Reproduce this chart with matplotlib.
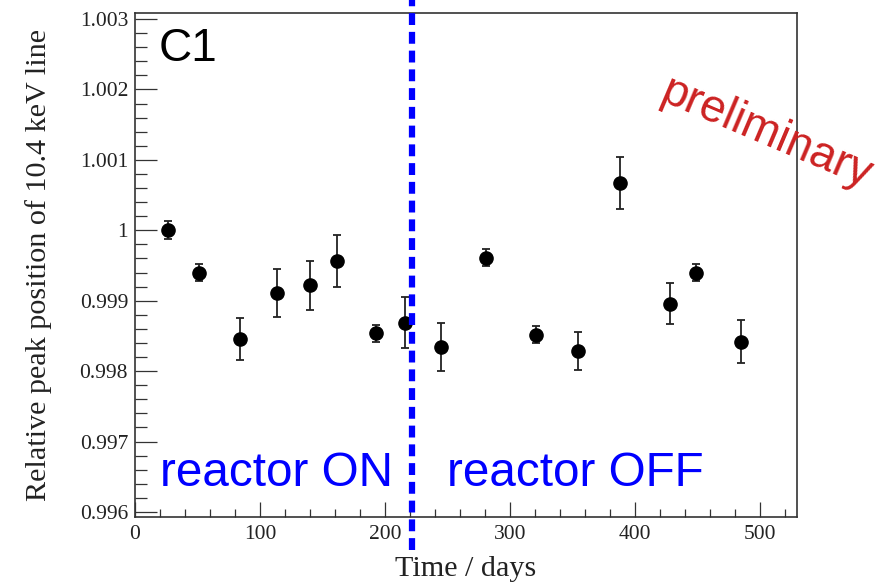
import matplotlib.pyplot as plt
from matplotlib.ticker import MultipleLocator

# data
days = [26, 51, 84, 114, 140, 162, 193, 216,
        245, 281, 321, 355, 388, 428, 449, 485]
peak = [1.00000, 0.99940, 0.99846, 0.99911, 0.99922, 0.99957, 0.99854, 0.99869,
        0.99834, 0.99961, 0.99852, 0.99828, 1.00067, 0.99896, 0.99940, 0.99842]
err = [0.00013, 0.00012, 0.00030, 0.00034, 0.00035, 0.00037, 0.00012, 0.00036,
       0.00034, 0.00012, 0.00012, 0.00027, 0.00037, 0.00029, 0.00012, 0.00030]
switch_day = 221.6

xticks = [0, 100, 200, 300, 400, 500]
yticks = [0.996, 0.997, 0.998, 0.999, 1.0, 1.001, 1.002, 1.003]
ylabels = ['0.996', '0.997', '0.998', '0.999', '1', '1.001', '1.002', '1.003']

serif = 'Liberation Serif'
sans = 'Liberation Sans'

fig = plt.figure(figsize=(8.96, 5.82), dpi=100)
ax = fig.add_axes([0.1507, 0.1117, 0.7388, 0.866])

ax.errorbar(days, peak, yerr=err, fmt='o', color='black', ecolor='#222222',
            markersize=9.5, elinewidth=1.3, capsize=2.9, capthick=1.3, zorder=3)

# reactor switch-off, drawn past the frame as in the slide
ax.axvline(switch_day, ymin=-0.066, ymax=1.03, color='#0000ff', lw=4.5,
           dashes=(1.9, 1.1), clip_on=False, zorder=4)

ax.set_xlim(0, 530)
ax.set_ylim(0.995929, 1.003086)
ax.set_xticks(xticks)
ax.set_yticks(yticks, ylabels)
ax.xaxis.set_minor_locator(MultipleLocator(20))
ax.yaxis.set_minor_locator(MultipleLocator(0.0002))

ax.tick_params(axis='x', which='major', direction='in', length=11, width=0.9,
               pad=6, top=False, labelsize=15.5, color='#333333')
ax.tick_params(axis='x', which='minor', direction='in', length=6, width=0.9,
               top=False, color='#333333')
ax.tick_params(axis='y', which='major', direction='in', length=15.8, width=0.9,
               pad=5, right=False, labelsize=15.5, color='#333333')
ax.tick_params(axis='y', which='minor', direction='in', length=8.6, width=0.9,
               right=False, color='#333333')
for lab in ax.get_xticklabels() + ax.get_yticklabels():
    lab.set_fontfamily(serif)
    lab.set_color('#222222')
for sp in ax.spines.values():
    sp.set_color('#333333')
    sp.set_linewidth(1.2)

ax.set_xlabel('Time / days', fontfamily=serif, fontsize=21.7, color='#222222')
ax.set_ylabel('Relative peak position of 10.4 keV line', fontfamily=serif,
              fontsize=21.7, color='#222222')
ax.xaxis.set_label_coords(0.5, -0.077)
ax.yaxis.set_label_coords(-0.126, 0.5)

ax.text(0.035, 0.905, 'C1', transform=ax.transAxes, fontfamily=sans,
        fontsize=33, color='black', va='baseline')
ax.text(0.037, 0.0615, 'reactor ON', transform=ax.transAxes, fontfamily=sans,
        fontsize=34.3, color='#0000ff', va='baseline')
ax.text(0.471, 0.0615, 'reactor OFF', transform=ax.transAxes, fontfamily=sans,
        fontsize=34.3, color='#0000ff', va='baseline')
fig.text(766 / 896, 1 - 134 / 582, 'preliminary', fontfamily=sans, fontsize=33,
         color='#cc2222', rotation=-23, ha='center', va='center',
         rotation_mode='anchor')

fig.savefig('out.png', dpi=100)
